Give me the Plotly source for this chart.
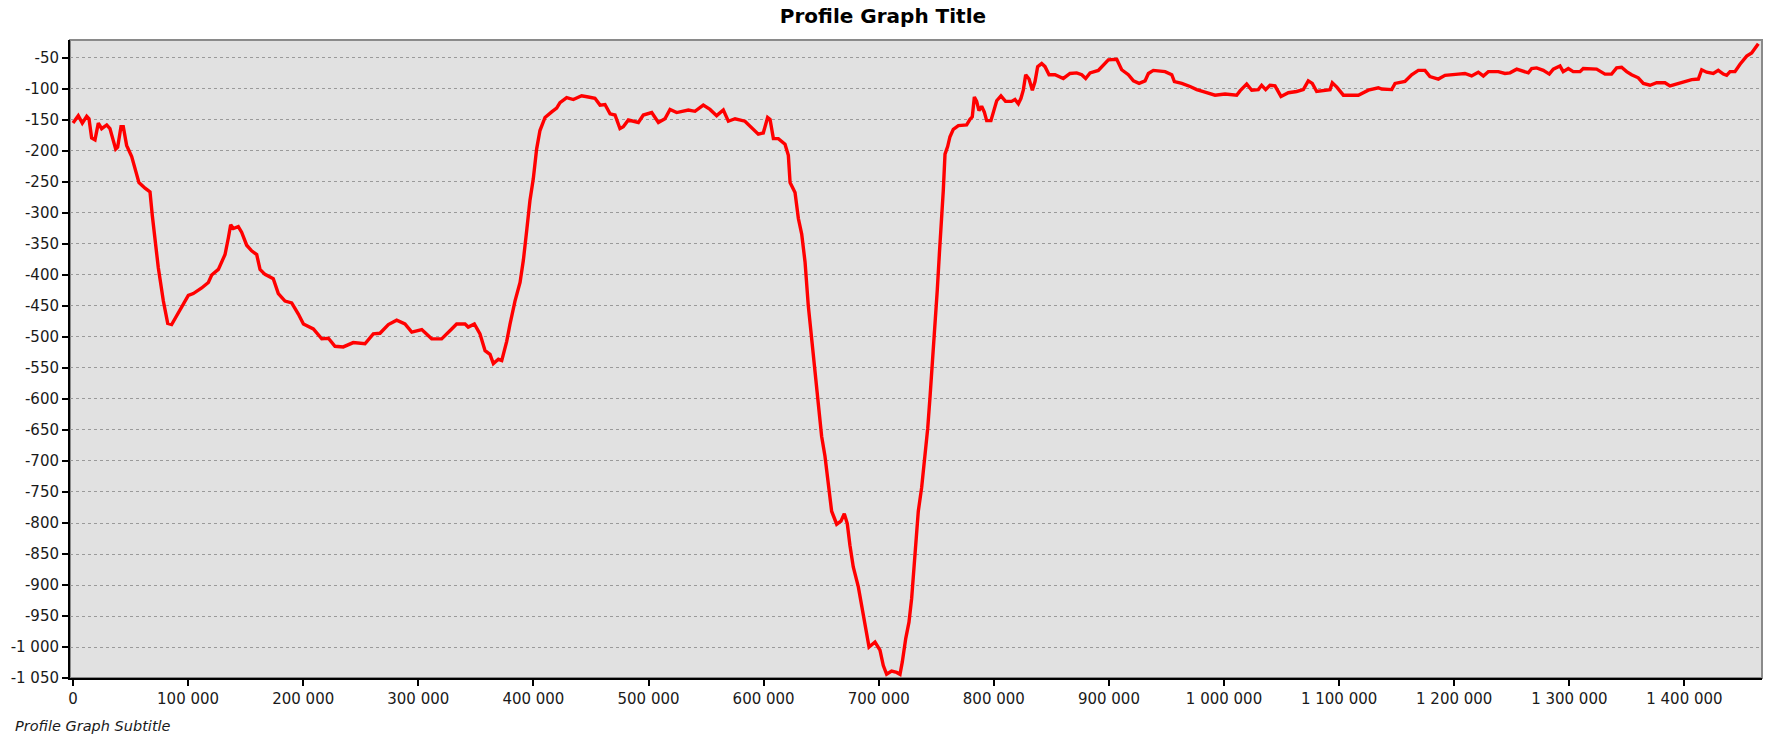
import plotly.graph_objects as go

# Distance along profile (m)
distance = [
    0, 4600, 8100, 11900, 13900, 16200, 19100, 22000, 24900, 29300, 32100, 37100, 38800, 41700, 43700,
    46600, 51000, 54500, 57300, 62600, 66900, 68900, 70600, 74100, 78500, 82300, 85700, 90100, 95800,
    100200, 104500, 111800, 117600, 120500, 126300, 132100, 135000, 137000, 139300, 143600, 146500,
    150900, 155200, 159600, 162500, 166800, 174000, 178400, 184200, 190000, 195800, 200200, 208800,
    216100, 221900, 227600, 234800, 243500, 253700, 260900, 266700, 274000, 281200, 288400, 294300,
    303000, 311600, 320300, 329000, 333300, 340600, 343400, 348700, 353600, 358000, 362300, 365200,
    369600, 372500, 376800, 379700, 384000, 388400, 391300, 394200, 397000, 399900, 402800, 405700,
    410100, 415900, 420200, 423100, 428900, 434700, 441900, 447700, 453500, 457900, 462200, 466600,
    470900, 475200, 478100, 482500, 491200, 495500, 502800, 508600, 514300, 518700, 524500, 534600,
    540400, 547600, 553400, 559200, 565000, 569400, 575200, 583800, 589600, 595400, 599700, 603500,
    605600, 608500, 612800, 618600, 621500, 623000, 627300, 630200, 633100, 636000, 638800, 641700,
    644600, 647500, 650400, 653300, 656200, 659100, 663500, 667200, 670100, 672700, 675000, 677900,
    682300, 685200, 688700, 691600, 696800, 701100, 704000, 706900, 711200, 715600, 718500, 720500,
    723500, 726300, 728600, 731500, 734400, 737300, 740200, 742600, 744600, 746600, 748900, 750900,
    752700, 754700, 756100, 757600, 759900, 761900, 764800, 769200, 776400, 779300, 781300, 783100,
    785100, 787100, 789400, 791700, 793800, 797500, 800400, 802500, 806200, 810200, 815400, 818400,
    821300, 823600, 825600, 827700, 830600, 833500, 835800, 838100, 841600, 844500, 848000, 853200,
    860400, 866200, 872000, 876400, 879800, 883600, 890800, 895200, 899500, 906800, 911100, 916900,
    921300, 926200, 931400, 934300, 938600, 948800, 954600, 956900, 963300, 970500, 976300, 983500,
    992200, 1000900, 1011000, 1013900, 1019700, 1024100, 1029800, 1032700, 1036200, 1039900, 1044300,
    1049500, 1055900, 1063100, 1068900, 1073200, 1076700, 1080500, 1087800, 1092100, 1094100, 1098000,
    1103700, 1116700, 1125400, 1134100, 1137000, 1145700, 1148600, 1157200, 1163000, 1168800, 1174600,
    1178900, 1186200, 1192000, 1203500, 1209300, 1215100, 1220900, 1225300, 1229600, 1238300, 1244100,
    1248500, 1254300, 1264400, 1267300, 1271600, 1277400, 1282600, 1286100, 1291900, 1294700, 1299100,
    1303400, 1309300, 1312100, 1323700, 1331000, 1336700, 1341100, 1345400, 1349800, 1354100, 1357000,
    1359900, 1364300, 1370100, 1375900, 1383100, 1387500, 1393300, 1400500, 1406300, 1412100, 1415000,
    1419300, 1425100, 1429400, 1433800, 1436700, 1439600, 1443900, 1448300, 1454100, 1458400, 1464200,
]

# Elevation / depth (m)
elevation = [
    -155, -143, -155, -144, -148, -179, -182, -155, -164, -158, -164, -197, -194, -161, -161,
    -191, -209, -233, -251, -260, -266, -304, -334, -388, -442, -478, -480, -466, -448,
    -433, -430, -421, -412, -400, -391, -367, -340, -319, -325, -322, -331,
    -352, -361, -367, -391, -399, -406, -430, -442, -445, -463, -479, -487,
    -503, -502, -515, -516, -509, -511, -495, -494, -480, -473, -479, -492,
    -488, -503, -503, -487, -479, -479, -484, -479, -495, -522, -528, -543,
    -536, -538, -507, -479, -442, -412, -376, -328, -280, -245, -197, -167,
    -146, -137, -131, -122, -114, -117, -111, -113, -115, -126, -125, -140,
    -142, -164, -161, -150, -154, -142, -138, -154, -148, -133, -138, -134,
    -136, -126, -133, -143, -134, -152, -148, -152, -162, -173, -171, -146,
    -149, -180, -180, -189, -207, -251, -267, -309, -334, -379, -449, -500,
    -551, -615, -660, -692, -743, -781, -802, -797, -785, -801, -836, -871,
    -903, -935, -973, -1000, -992, -1005, -1030, -1044, -1039, -1041, -1044, -1024,
    -986, -960, -922, -852, -781, -743, -692, -647, -596, -545, -488, -424,
    -366, -309, -264, -205, -193, -177, -165, -159, -158, -149, -145, -113,
    -120, -135, -128, -137, -151, -151, -131, -119, -111, -120, -120, -117,
    -124, -115, -102, -77, -84, -102, -88, -64, -59, -64, -77, -77,
    -83, -75, -74, -77, -83, -74, -70, -61, -53, -52, -69, -77,
    -87, -91, -87, -75, -70, -72, -77, -88, -91, -96, -101, -105,
    -110, -108, -110, -103, -92, -102, -101, -94, -101, -94, -95,
    -112, -106, -104, -101, -87, -91, -104, -102, -101, -90, -97,
    -110, -110, -102, -98, -100, -101, -91, -88, -77, -70, -70,
    -80, -84, -78, -76, -75, -79, -73, -79, -72, -72, -75,
    -74, -68, -74, -67, -66, -70, -76, -68, -63, -72, -67,
    -72, -72, -67, -68, -76, -76, -66, -65, -72, -77, -79,
    -82, -91, -94, -90, -90, -95, -92, -88, -85, -84, -69,
    -73, -75, -70, -76, -78, -72, -72, -60, -47, -42, -27,
]

x_tick_values = [0, 100000, 200000, 300000, 400000, 500000, 600000, 700000,
                 800000, 900000, 1000000, 1100000, 1200000, 1300000, 1400000]
y_tick_values = [-50, -100, -150, -200, -250, -300, -350, -400, -450, -500, -550,
                 -600, -650, -700, -750, -800, -850, -900, -950, -1000, -1050]


def fmt(v):
    s = f"{abs(v):,}".replace(",", " ")
    return ("-" if v < 0 else "") + s


x_tick_labels = [fmt(v) for v in x_tick_values]
y_tick_labels = [fmt(v) for v in y_tick_values]

FONT = "DejaVu Sans"

fig = go.Figure()
fig.add_trace(go.Scatter(
    x=distance, y=elevation, mode="lines",
    line=dict(color="#ff0000", width=3.4),
    hoverinfo="skip", showlegend=False,
))

fig.update_layout(
    width=1773, height=737,
    margin=dict(l=70, r=11, t=40, b=59, pad=0),
    paper_bgcolor="#ffffff",
    plot_bgcolor="#e1e1e1",
    title=dict(
        text="<b>Profile Graph Title</b>",
        x=0.498, xanchor="center", xref="container",
        y=1 - 16 / 737, yanchor="middle", yref="container",
        font=dict(family=FONT, size=20, color="#000000"),
    ),
    font=dict(family=FONT, size=15, color="#1a1a1a"),
    shapes=[dict(
        type="rect", xref="paper", yref="paper", x0=0, x1=1, y0=0, y1=1,
        line=dict(color="#8a8a8a", width=2), layer="below",
    )],
    annotations=[dict(
        text="<i>Profile Graph Subtitle</i>",
        xref="paper", yref="paper", x=-57 / 1692, y=-48 / 638,
        xanchor="left", yanchor="middle", showarrow=False,
        font=dict(family=FONT, size=14.5, color="#1a1a1a"),
    )],
)

fig.update_xaxes(
    range=[-2600, 1467400],
    tickvals=x_tick_values, ticktext=x_tick_labels,
    showgrid=False, zeroline=False,
    showline=True, linecolor="#000000", linewidth=2,
    ticks="outside", ticklen=6, tickcolor="#000000", tickwidth=2,
    tickfont=dict(family=FONT, size=15, color="#1a1a1a"),
)
fig.update_yaxes(
    range=[-1050, -21],
    tickvals=y_tick_values, ticktext=y_tick_labels,
    showgrid=True, gridcolor="#9a9a9a", gridwidth=1, griddash="dot",
    zeroline=False,
    showline=True, linecolor="#000000", linewidth=2,
    ticks="outside", ticklen=6, tickcolor="#000000", tickwidth=2,
    tickfont=dict(family=FONT, size=15, color="#1a1a1a"),
)

fig.write_html(
    "out.html",
    config={"displayModeBar": False},
    post_script="document.body.style.margin='0';",
)
